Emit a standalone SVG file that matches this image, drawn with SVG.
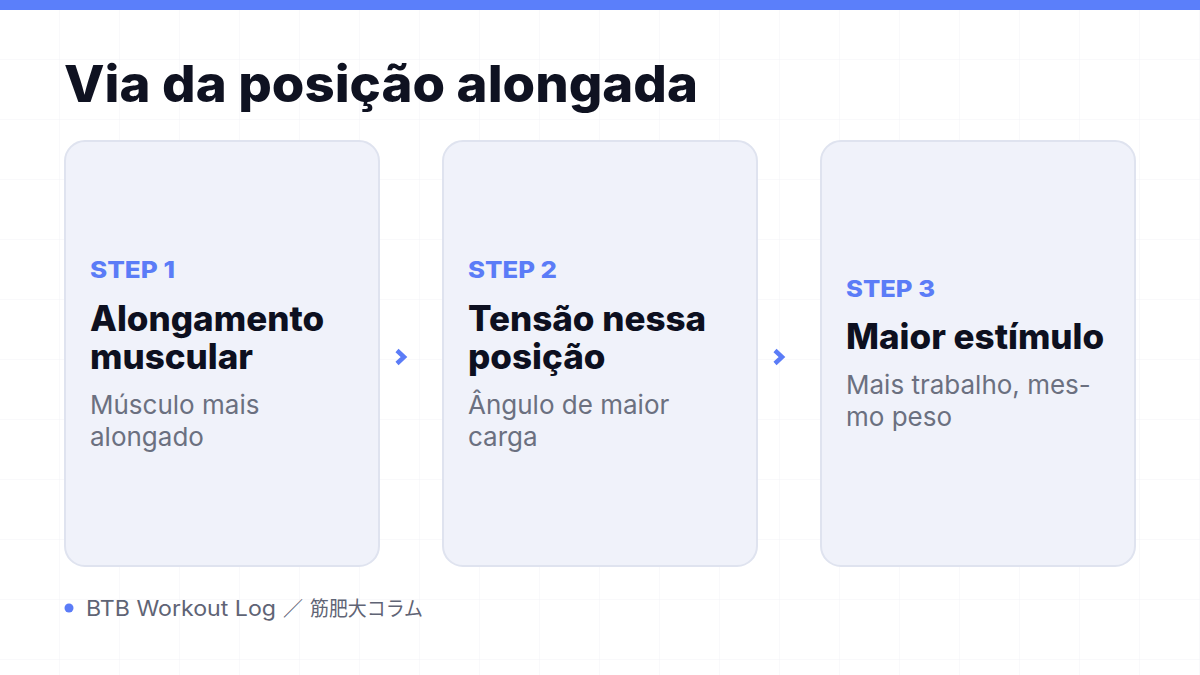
<svg xmlns="http://www.w3.org/2000/svg" width="1200" height="675" viewBox="0 0 1200 675">
  <defs>
    <pattern id="grid" width="60" height="60" patternUnits="userSpaceOnUse">
      <path d="M60 0V60M0 60H60" fill="none" stroke="#f2f3f7" stroke-width="1"/>
    </pattern>
    <style>
      .card{fill:#f0f2fa;stroke:#dfe3ef;stroke-width:2}
      .title{font-family:Inter,"Liberation Sans",sans-serif;font-weight:800;font-size:51px;fill:#0f1221}
      .step{font-family:Inter,"Liberation Sans",sans-serif;font-weight:800;font-size:23px;fill:#5b7cf7}
      .head{font-family:Inter,"Liberation Sans",sans-serif;font-weight:800;font-size:35px;fill:#0d1020}
      .body{font-family:Inter,"Liberation Sans",sans-serif;font-weight:400;font-size:26px;fill:#6b7080}
      .foot{font-family:Inter,"Liberation Sans",sans-serif;font-weight:400;font-size:21px;fill:#5f6475}
      .footj{font-family:"Noto Sans CJK JP",sans-serif;font-weight:400;font-size:20px;fill:#5f6475}
      .chev{fill:none;stroke:#5b7cf7;stroke-width:4.5;stroke-linecap:butt;stroke-linejoin:miter}
    </style>
  </defs>
  <rect width="1200" height="675" fill="#ffffff"/>
  <rect width="1200" height="675" fill="url(#grid)"/>
  <rect x="0" y="0" width="1200" height="10" fill="#5b7ffa"/>

  <text class="title" x="64" y="102" textLength="634" lengthAdjust="spacingAndGlyphs">Via da posição alongada</text>

  <g id="step1">
    <rect class="card" x="65" y="141" width="314" height="425" rx="20"/>
    <text class="step" x="90" y="278" textLength="85" lengthAdjust="spacingAndGlyphs">STEP 1</text>
    <text class="head" x="90" y="331">Alongamento</text>
    <text class="head" x="90" y="369">muscular</text>
    <text class="body" x="90" y="414">Músculo mais</text>
    <text class="body" x="90" y="446">alongado</text>
  </g>

  <g id="step2">
    <rect class="card" x="443" y="141" width="314" height="425" rx="20"/>
    <text class="step" x="468" y="278" textLength="89" lengthAdjust="spacingAndGlyphs">STEP 2</text>
    <text class="head" x="468" y="331">Tensão nessa</text>
    <text class="head" x="468" y="369">posição</text>
    <text class="body" x="468" y="414">Ângulo de maior</text>
    <text class="body" x="468" y="446">carga</text>
  </g>

  <g id="step3">
    <rect class="card" x="821" y="141" width="314" height="425" rx="20"/>
    <text class="step" x="846" y="297" textLength="89" lengthAdjust="spacingAndGlyphs">STEP 3</text>
    <text class="head" x="846" y="349">Maior estímulo</text>
    <text class="body" x="846" y="394">Mais trabalho, mes-</text>
    <text class="body" x="846" y="426">mo peso</text>
  </g>

  <g id="connectors">
    <path class="chev" d="M397 350.5L404 357L397 363.5"/>
    <path class="chev" d="M775 350.5L782 357L775 363.5"/>
  </g>

  <g id="footer">
    <circle cx="69" cy="608" r="4.5" fill="#5b7cf7"/>
    <text class="foot" x="86" y="616" textLength="190" lengthAdjust="spacingAndGlyphs">BTB Workout Log</text>
    <text class="footj" x="283" y="616">／</text>
    <text class="footj" x="310" y="616" textLength="113" lengthAdjust="spacingAndGlyphs">筋肥大コラム</text>
  </g>
</svg>
